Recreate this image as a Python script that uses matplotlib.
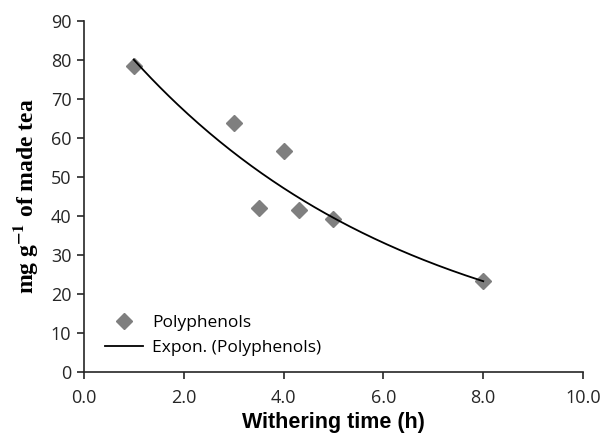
import numpy as np
import matplotlib
matplotlib.use("Agg")
import matplotlib.pyplot as plt

# ---------------- data ----------------
withering_h = [1.0, 3.0, 3.5, 4.0, 4.3, 5.0, 8.0]
polyphenols = [78.4, 63.7, 42.1, 56.6, 41.5, 39.2, 23.2]

x_ticks = [0, 2, 4, 6, 8, 10]
y_ticks = [0, 10, 20, 30, 40, 50, 60, 70, 80, 90]

# exponential trendline (least squares on ln y, like Excel's "Expon.")
b, ln_a = np.polyfit(withering_h, np.log(polyphenols), 1)
x_fit = np.linspace(min(withering_h), max(withering_h), 200)
y_fit = np.exp(ln_a) * np.exp(b * x_fit)

plt.rcParams["font.family"] = ["Open Sans", "DejaVu Sans"]
plt.rcParams["mathtext.fontset"] = "stix"

fig = plt.figure(figsize=(6.03, 4.36), dpi=100)
ax = fig.add_axes([0.139, 0.147, 0.828, 0.805])

ax.plot(withering_h, polyphenols, linestyle="none", marker="D", ms=8.5,
        color="#7f7f7f", label="Polyphenols")
ax.plot(x_fit, y_fit, color="black", lw=1.3, label="Expon. (Polyphenols)")

ax.set_xlim(0, 10)
ax.set_ylim(0, 90)
ax.set_xticks(x_ticks)
ax.set_xticklabels([f"{t:.1f}" for t in x_ticks])
ax.set_yticks(y_ticks)
ax.tick_params(axis="both", labelsize=13, length=5, width=1.2,
               direction="out", colors="#262626")
ax.tick_params(axis="x", pad=7)
ax.tick_params(axis="y", pad=4)

for s in ("top", "right"):
    ax.spines[s].set_visible(False)
for s in ("left", "bottom"):
    ax.spines[s].set_linewidth(1.2)
    ax.spines[s].set_color("#262626")

ax.set_xlabel("Withering time (h)", family="Liberation Sans",
              fontweight="bold", fontsize=15.5, labelpad=4)
ax.set_ylabel(r"mg g$^{\mathbf{-1}}$ of made tea", family="Liberation Serif",
              fontweight="bold", fontsize=17, labelpad=8)

leg = ax.legend(loc="lower left", bbox_to_anchor=(0.011, 0.0), frameon=False,
                fontsize=12.5, handlelength=2.2, handletextpad=0.5,
                labelspacing=0.5)

fig.savefig("out.png", dpi=100)
